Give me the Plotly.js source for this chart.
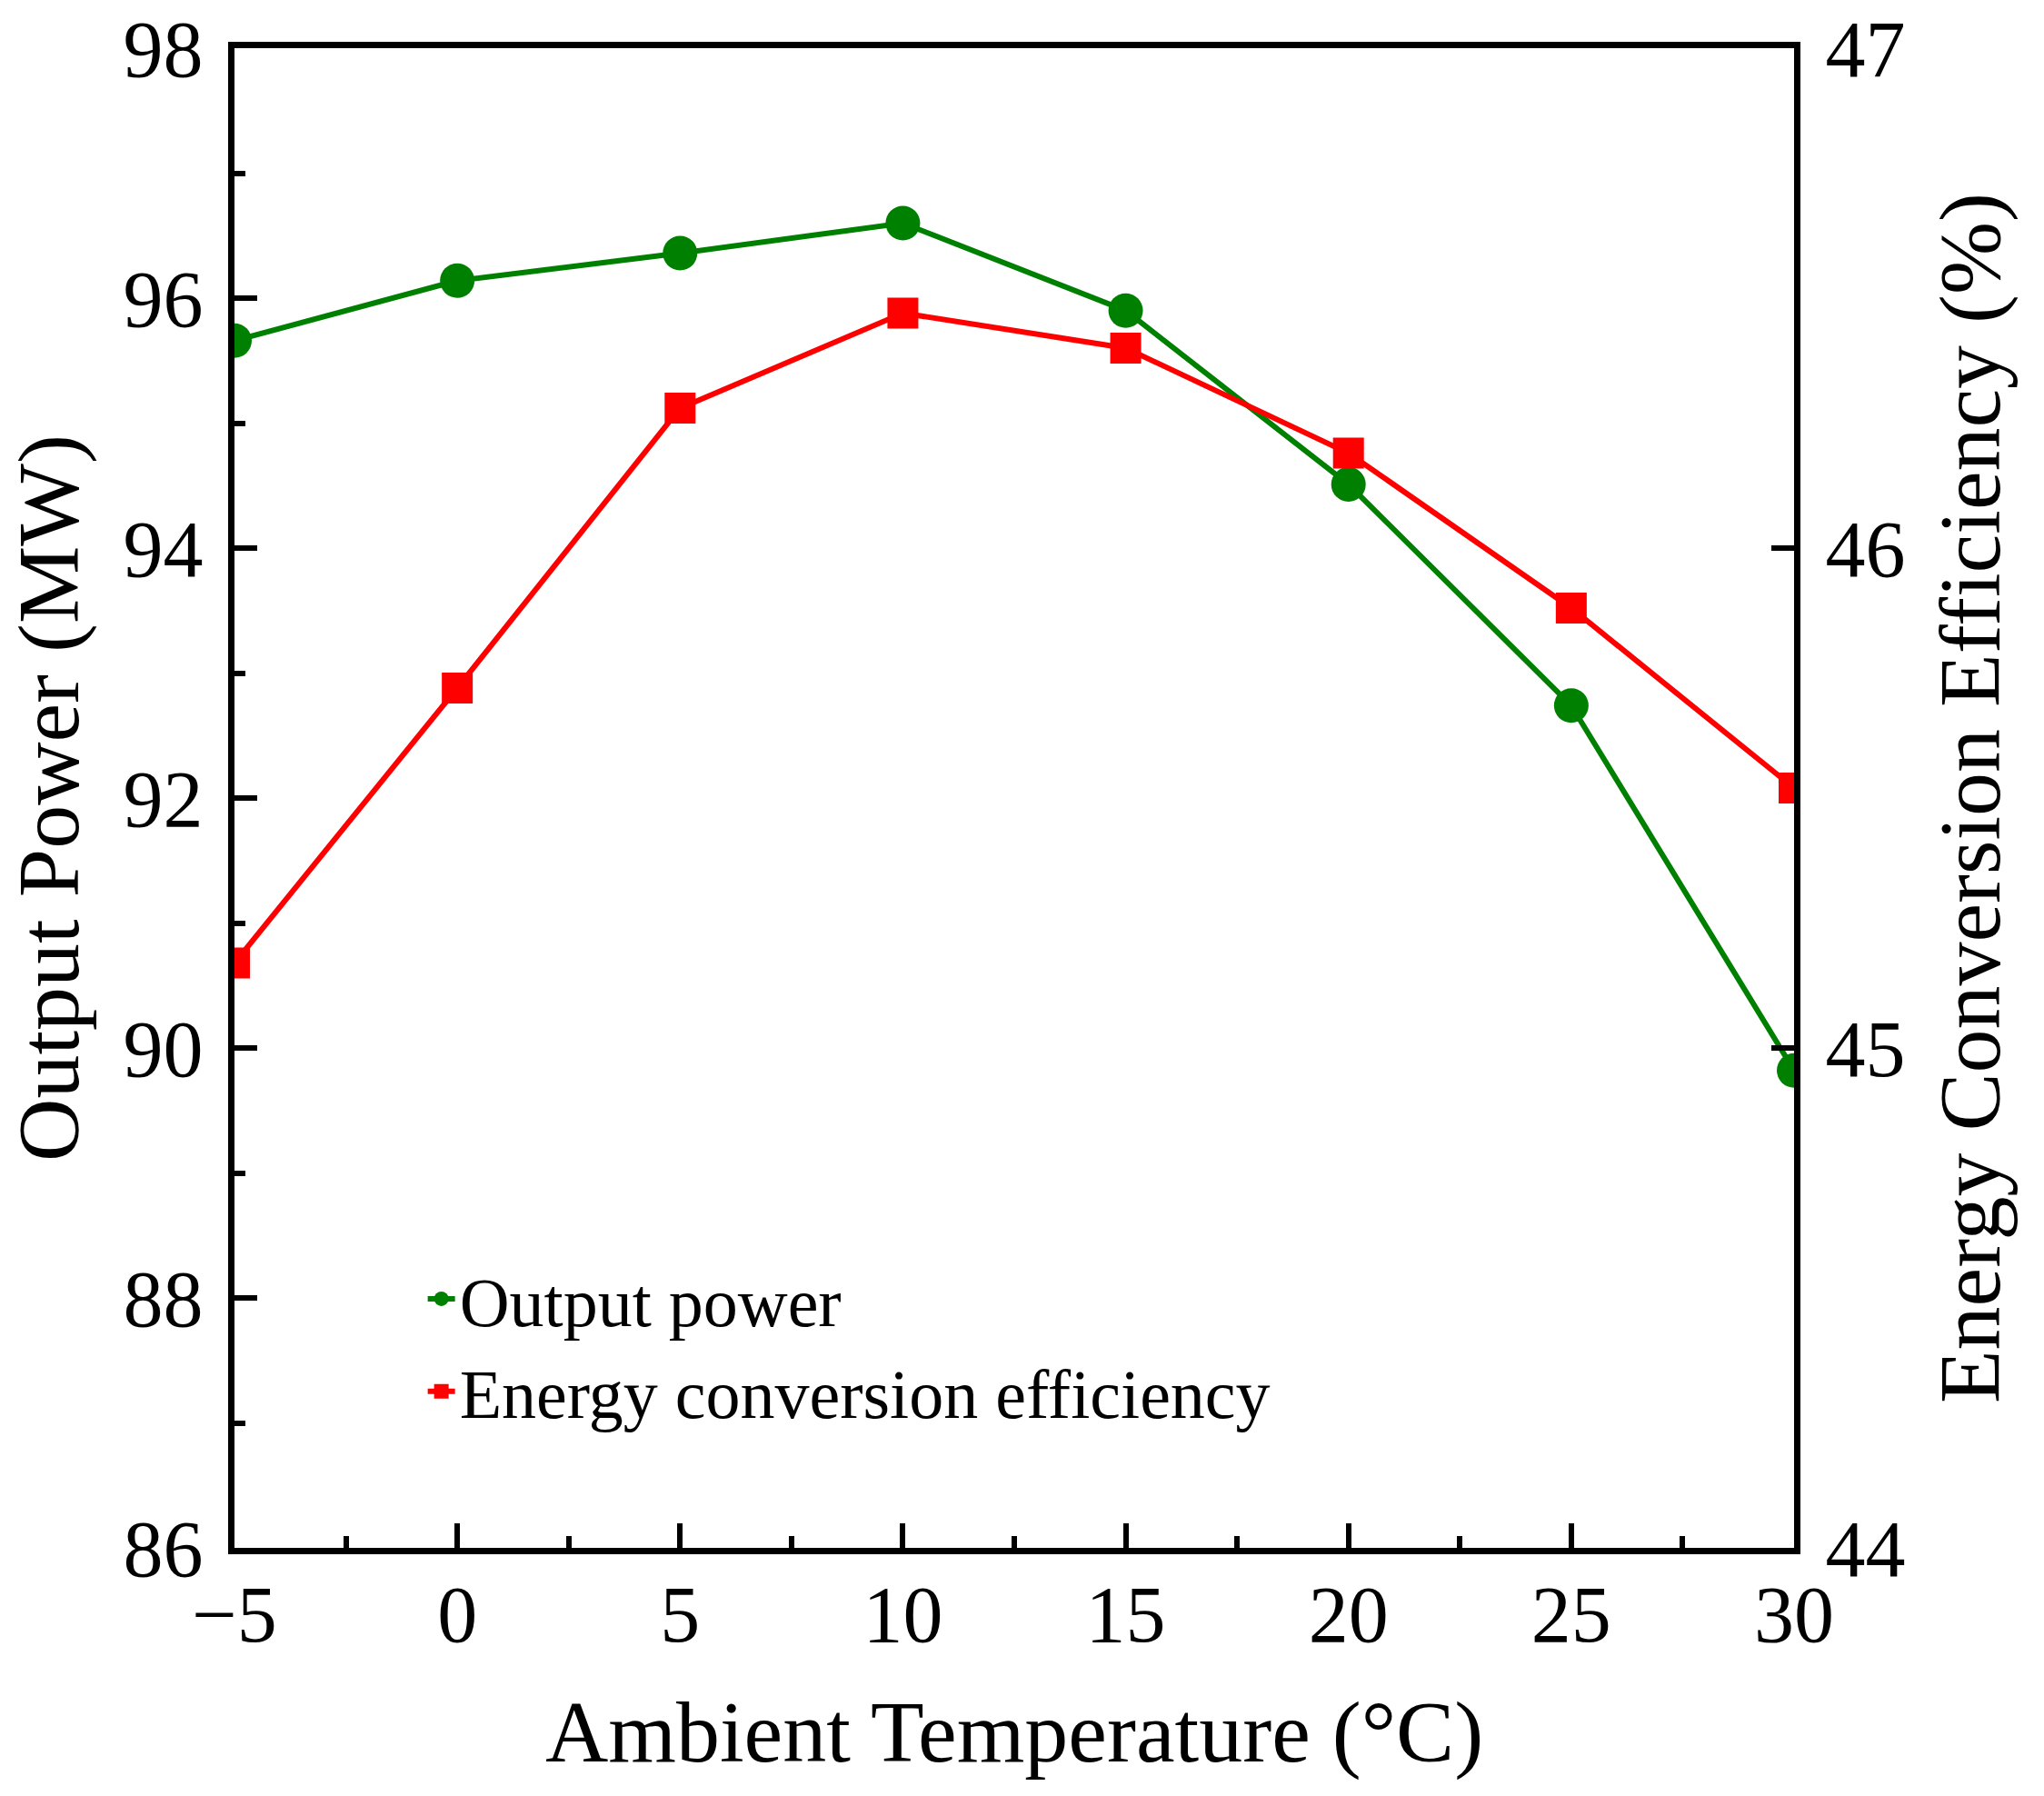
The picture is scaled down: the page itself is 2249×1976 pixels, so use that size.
<!DOCTYPE html>
<html>
<head>
<meta charset="utf-8">
<script src="https://cdn.plot.ly/plotly-3.0.1.min.js"></script>
<style>
  html, body { margin: 0; padding: 0; background: #ffffff; }
  #chart { width: 2249px; height: 1976px; }
</style>
</head>
<body>
<div id="chart"></div>
<script>
// ---- data ----
const temperature = [-5, 0, 5, 10, 15, 20, 25, 30];              // Ambient Temperature (°C)
const outputPower = [95.66, 96.14, 96.36, 96.60, 95.90, 94.51, 92.74, 89.82];   // MW
const efficiency  = [45.17, 45.72, 46.28, 46.47, 46.40, 46.19, 45.88, 45.52];   // %

const seriesNames = ['Output power', 'Energy conversion efficiency'];
const xTitle  = 'Ambient Temperature (°C)';
const y1Title = 'Output Power (MW)';
const y2Title = 'Energy Conversion Efficiency (%)';

const FONT = '"Liberation Serif", "Times New Roman", Times, serif';
const GREEN = '#008000';
const RED = '#ff0000';

const traces = [
  {
    x: temperature, y: outputPower, name: seriesNames[0],
    type: 'scatter', mode: 'lines+markers', yaxis: 'y',
    line: { color: GREEN, width: 6 },
    marker: { color: GREEN, symbol: 'circle', size: 38 }
  },
  {
    x: temperature, y: efficiency, name: seriesNames[1],
    type: 'scatter', mode: 'lines+markers', yaxis: 'y2',
    line: { color: RED, width: 6 },
    marker: { color: RED, symbol: 'square', size: 34 }
  }
];

const axisCommon = {
  showline: true, linecolor: '#000', linewidth: 7,
  ticks: 'inside', tickcolor: '#000', tickwidth: 6,
  showgrid: false, zeroline: false,
  tickfont: { family: FONT, size: 88, color: '#000' },
  automargin: false
};

const layout = {
  width: 2249, height: 1976,
  paper_bgcolor: '#ffffff', plot_bgcolor: '#ffffff',
  margin: { l: 258, r: 275, t: 53, b: 273 },
  font: { family: FONT, color: '#000' },
  showlegend: true,
  legend: {
    x: 0.121, y: 0.2, xanchor: 'left', yanchor: 'top',
    bgcolor: 'rgba(0,0,0,0)', borderwidth: 0,
    font: { family: FONT, size: 76, color: '#000' },
    itemsizing: 'trace'
  },
  xaxis: Object.assign({}, axisCommon, {
    range: [-5, 30], tick0: -5, dtick: 5, ticklen: 27,
    mirror: true,
    minor: { dtick: 2.5, ticks: 'inside', ticklen: 13, tickwidth: 6, tickcolor: '#000', showgrid: false },
    ticklabelstandoff: -10,
    title: { text: xTitle, font: { family: FONT, size: 96, color: '#000' }, standoff: 50 }
  }),
  yaxis: Object.assign({}, axisCommon, {
    range: [86, 98], tick0: 86, dtick: 2, ticklen: 25,
    minor: { dtick: 1, ticks: 'inside', ticklen: 12, tickwidth: 6, tickcolor: '#000', showgrid: false },
    ticklabelstandoff: 10,
    title: { text: y1Title, font: { family: FONT, size: 96, color: '#000' }, standoff: 30 }
  }),
  yaxis2: Object.assign({}, axisCommon, {
    overlaying: 'y', side: 'right',
    range: [44, 47], tick0: 44, dtick: 1, ticklen: 25,
    ticklabelstandoff: 10,
    title: { text: y2Title, font: { family: FONT, size: 96, color: '#000' }, standoff: 40 }
  })
};

Plotly.newPlot('chart', traces, layout, { displayModeBar: false, staticPlot: true });
</script>
</body>
</html>
